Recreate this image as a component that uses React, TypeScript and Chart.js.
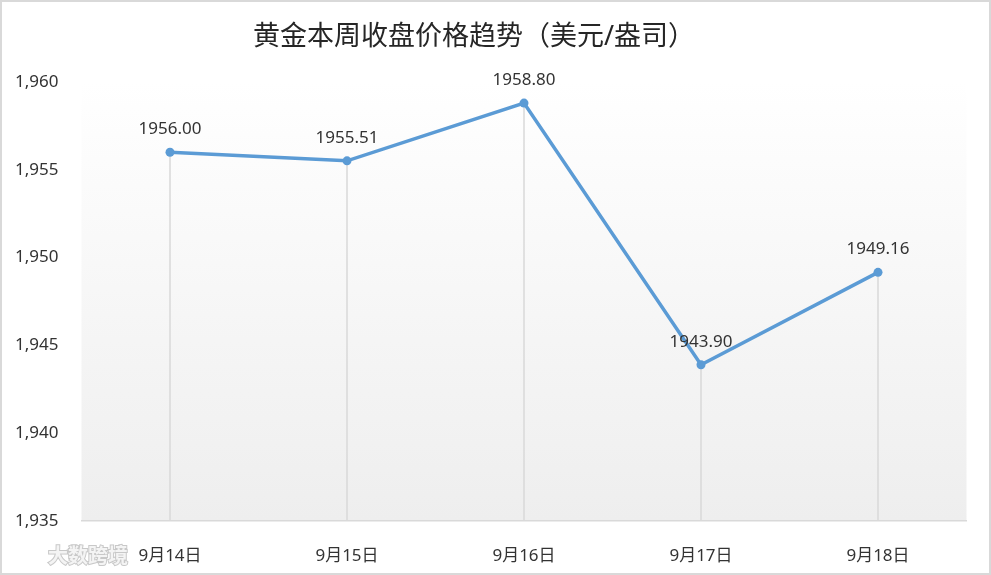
import React, { useEffect, useRef } from 'react';
import { Chart, registerables } from 'chart.js';

Chart.register(...registerables);

const titleText = '黄金本周收盘价格趋势（美元/盎司）';
const categories = ['9月14日', '9月15日', '9月16日', '9月17日', '9月18日'];
const closePrices = [1956.0, 1955.51, 1958.8, 1943.9, 1949.16];
const yMin = 1935;
const yMax = 1960;
const yStep = 5;
const watermarkText = '大数跨境';

const FONT = '"Noto Sans", "Noto Sans CJK SC", sans-serif';
const LINE_COLOR = '#5b9bd5';
const TEXT_COLOR = '#333333';

const decorPlugin = {
  id: 'decor',
  beforeDraw(chart: any) {
    const { ctx, chartArea: a, width, height } = chart;
    ctx.save();
    ctx.fillStyle = '#ffffff';
    ctx.fillRect(0, 0, width, height);
    const g = ctx.createLinearGradient(0, a.top, 0, a.bottom);
    g.addColorStop(0, '#ffffff');
    g.addColorStop(1, '#eeeeee');
    ctx.fillStyle = g;
    ctx.fillRect(a.left, a.top, a.right - a.left, a.bottom - a.top);
    ctx.restore();
  },
  beforeDatasetsDraw(chart: any) {
    const { ctx, chartArea: a } = chart;
    const meta = chart.getDatasetMeta(0);
    ctx.save();
    ctx.strokeStyle = '#d9d9d9';
    ctx.lineWidth = 1.5;
    meta.data.forEach((p: any) => {
      ctx.beginPath();
      ctx.moveTo(p.x, p.y);
      ctx.lineTo(p.x, a.bottom);
      ctx.stroke();
    });
    ctx.restore();
  },
  afterDatasetsDraw(chart: any) {
    const { ctx } = chart;
    const meta = chart.getDatasetMeta(0);
    const values = chart.data.datasets[0].data as number[];
    ctx.save();
    ctx.font = `17px ${FONT}`;
    ctx.fillStyle = TEXT_COLOR;
    ctx.textAlign = 'center';
    ctx.textBaseline = 'middle';
    meta.data.forEach((p: any, i: number) => {
      ctx.fillText(values[i].toFixed(2), p.x, p.y - 23);
    });
    ctx.restore();
  },
  afterDraw(chart: any) {
    const { ctx, width, height } = chart;
    ctx.save();
    // title
    ctx.font = `27px ${FONT}`;
    ctx.fillStyle = '#262626';
    ctx.textAlign = 'center';
    ctx.textBaseline = 'middle';
    ctx.fillText(titleText, 474, 37);
    // frame
    ctx.strokeStyle = '#d9d9d9';
    ctx.lineWidth = 2;
    ctx.strokeRect(1, 1, width - 2, height - 2);
    // watermark
    ctx.font = `bold 20px "Noto Sans CJK SC", sans-serif`;
    ctx.textAlign = 'left';
    ctx.textBaseline = 'middle';
    ctx.lineWidth = 2;
    ctx.strokeStyle = '#c8c8c8';
    ctx.strokeText(watermarkText, 48, 555);
    ctx.fillStyle = '#f4f4f4';
    ctx.fillText(watermarkText, 48, 555);
    ctx.restore();
  },
};

export default function App() {
  const canvasRef = useRef<HTMLCanvasElement | null>(null);

  useEffect(() => {
    document.body.style.margin = '0';
    const canvas = canvasRef.current;
    if (!canvas) return;
    const chart = new Chart(canvas, {
      type: 'line',
      data: {
        labels: categories,
        datasets: [
          {
            data: closePrices,
            borderColor: LINE_COLOR,
            backgroundColor: LINE_COLOR,
            borderWidth: 3.5,
            pointRadius: 4.5,
            pointBorderWidth: 0,
            pointBackgroundColor: LINE_COLOR,
            tension: 0,
            fill: false,
          },
        ],
      },
      options: {
        responsive: false,
        animation: false,
        devicePixelRatio: 1,
        layout: { padding: { left: 15, right: 24.5, top: 82, bottom: 0 } },
        plugins: {
          legend: { display: false },
          tooltip: { enabled: false },
          title: { display: false },
        },
        scales: {
          x: {
            offset: true,
            grid: { display: false },
            border: { display: true, color: '#d9d9d9', width: 1.5 },
            ticks: {
              color: TEXT_COLOR,
              font: { family: FONT, size: 17 },
              padding: 17,
            },
            afterFit(scale: any) {
              scale.height = 54;
            },
          },
          y: {
            min: yMin,
            max: yMax,
            grid: { display: false },
            border: { display: false },
            ticks: {
              stepSize: yStep,
              crossAlign: 'far',
              color: TEXT_COLOR,
              font: { family: FONT, size: 17 },
              callback: (v: any) => Number(v).toLocaleString('en-US'),
            },
            afterFit(scale: any) {
              scale.width = 66.5;
            },
          },
        },
      },
      plugins: [decorPlugin],
    } as any);
    return () => chart.destroy();
  }, []);

  return (
    <div style={{ position: 'absolute', left: 0, top: 0, width: 991, height: 575 }}>
      <canvas ref={canvasRef} width={991} height={575} style={{ display: 'block' }} />
    </div>
  );
}
